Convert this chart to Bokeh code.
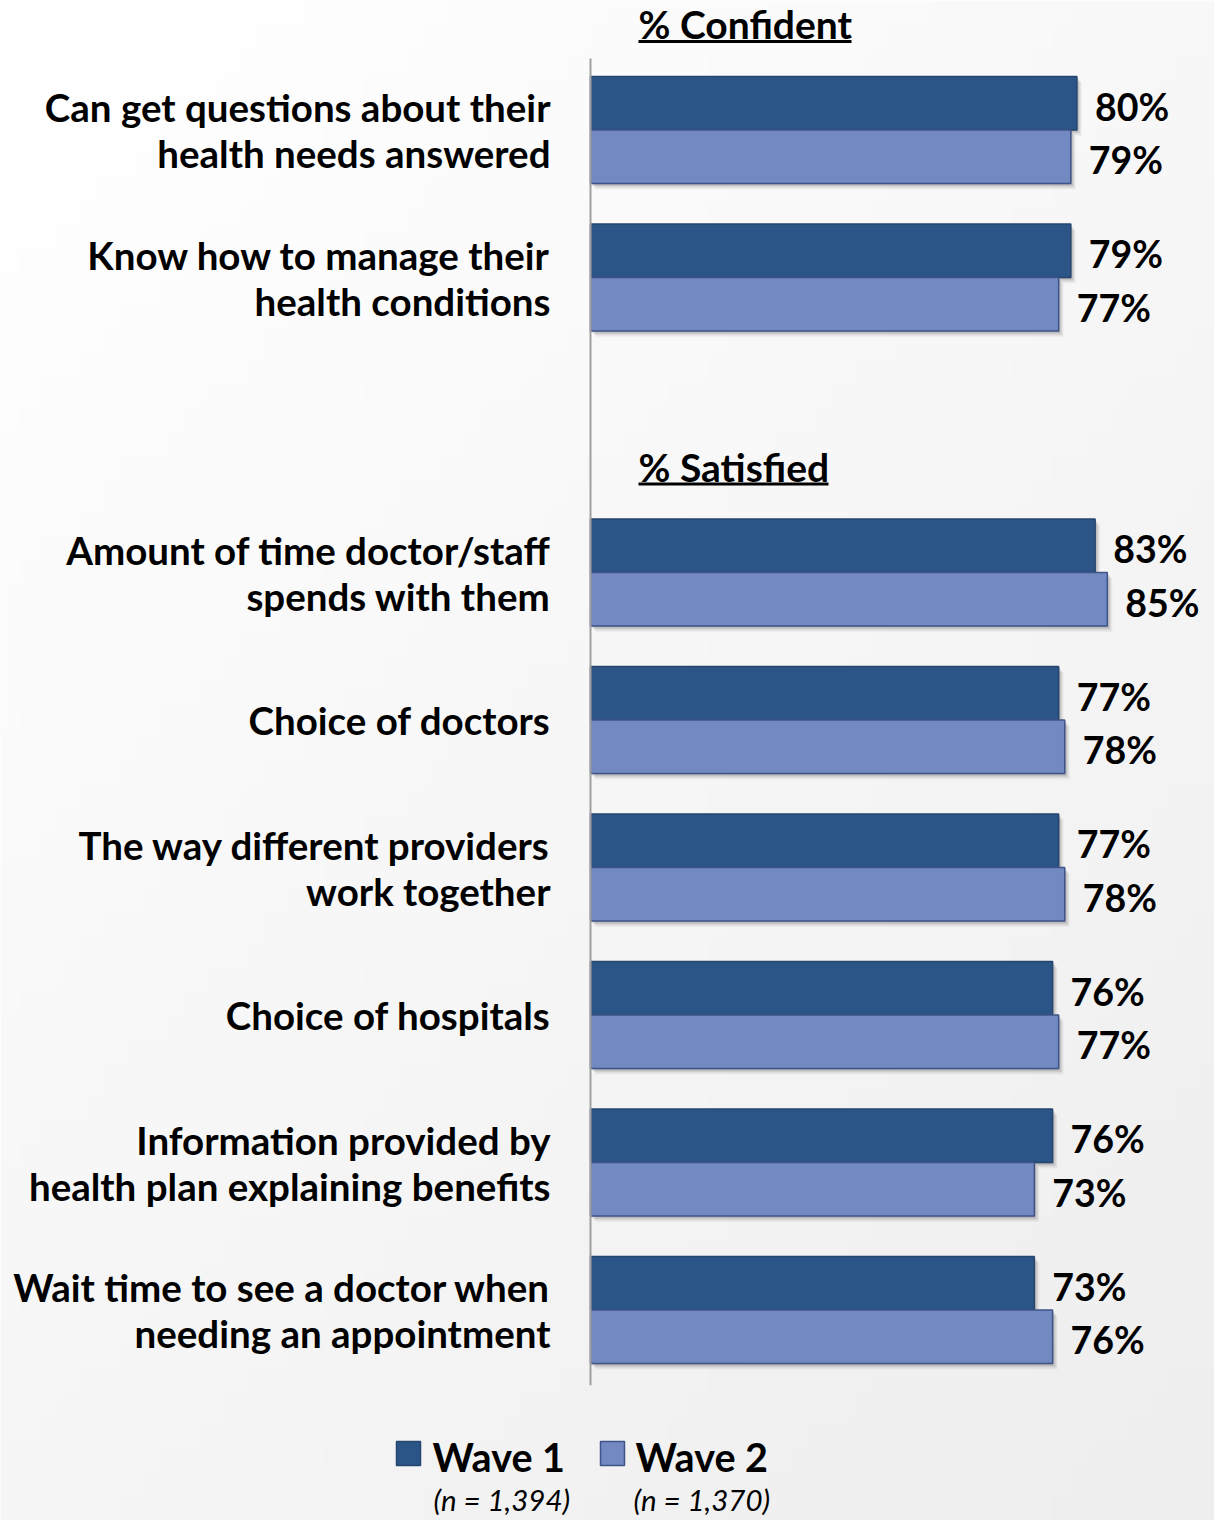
import numpy as np
from bokeh.plotting import figure
from bokeh.models import Range1d, ColumnDataSource
from bokeh.core.properties import value
from bokeh.embed import file_html
from bokeh.resources import INLINE

# ---------------- data ----------------
categories = [
    "Can get questions about their\nhealth needs answered",
    "Know how to manage their\nhealth conditions",
    "Amount of time doctor/staff\nspends with them",
    "Choice of doctors",
    "The way different providers\nwork together",
    "Choice of hospitals",
    "Information provided by\nhealth plan explaining benefits",
    "Wait time to see a doctor when\nneeding an appointment",
]
groups = ["% Confident", "% Confident",
          "% Satisfied", "% Satisfied", "% Satisfied", "% Satisfied", "% Satisfied", "% Satisfied"]
wave1 = [80, 79, 83, 77, 77, 76, 76, 73]
wave2 = [79, 77, 85, 78, 78, 77, 73, 76]
series_names = ["Wave 1", "Wave 2"]
series_n = ["(n = 1,394)", "(n = 1,370)"]

# ---------------- layout / style ----------------
W, H = 1214, 1520
OFF = 0                   # page offset of the figure
X0, XS = 590.0, 6.08      # page px of 0 %, px per %
Y0, YS = 129.5, 147.5     # page px of slot 0 centre, px per slot
BAR_H = 53.5 / YS
C1, C1L = "#2C5587", "#25466F"
C2, C2L = "#7389C2", "#3F5488"
FONT = value("Lato")

def dx(px):
    return (px - X0) / XS

def dy(py):
    return (py - Y0) / YS

# slots: leave one empty slot when the group changes
slots = []
s = 0
for i, g in enumerate(groups):
    if i > 0 and g != groups[i - 1]:
        s += 1
    slots.append(s)
    s += 1

p = figure(width=W, height=H, output_backend="svg", toolbar_location=None,
           x_range=Range1d(dx(OFF), dx(OFF + W)), y_range=Range1d(dy(OFF + H), dy(OFF)),
           min_border=0, x_axis_location=None, y_axis_location=None)
p.grid.visible = False
p.outline_line_color = None
p.background_fill_color = "white"
p.border_fill_color = "white"

# background gradient
ny, nx = 60, 60
yy, xx = np.mgrid[0:ny, 0:nx]
t = np.clip(0.6 * yy / (ny - 1) + 0.45 * xx / (nx - 1) - 0.05, 0, 1)
g = (255 - 17 * t).astype(np.uint32)
img = (255 << 24) | (g << 16) | (g << 8) | g
p.image_rgba(image=[img.astype(np.uint32)], x=dx(OFF), y=dy(OFF), dw=dx(OFF + W) - dx(OFF),
             dh=dy(OFF + H) - dy(OFF))

y1 = [sl - BAR_H / 2 for sl in slots]
y2 = [sl + BAR_H / 2 for sl in slots]
src = ColumnDataSource(dict(y1=y1, y2=y2, w1=wave1, w2=wave2,
                            l1=[f"{v}%" for v in wave1], l2=[f"{v}%" for v in wave2]))

# shadows
for k, a in [(1, 0.10), (2, 0.08), (3, 0.06), (4, 0.05), (5, 0.04)]:
    ox, oy = k * 1.0 / XS, k * 1.2 / YS
    for yc, wc in (("y1", "w1"), ("y2", "w2")):
        p.hbar(y=[v + oy for v in src.data[yc]], left=ox, right=[v + ox for v in src.data[wc]],
               height=BAR_H, fill_color="black", fill_alpha=a, line_color=None)

p.hbar(y="y1", left=0, right="w1", height=BAR_H, source=src,
       fill_color=C1, line_color=C1L, line_width=1.5)
p.hbar(y="y2", left=0, right="w2", height=BAR_H, source=src,
       fill_color=C2, line_color=C2L, line_width=1.5)

# axis line
p.segment(x0=[0], y0=[-0.485], x1=[0], y1=[max(slots) + 0.51], line_color="#A0A0A0", line_width=2)

# value labels
for yc, lc, wc in (("y1", "l1", "w1"), ("y2", "l2", "w2")):
    p.text(x=wc, y=yc, text=lc, source=src, x_offset=18, y_offset=3,
           text_font=FONT, text_font_style="bold", text_font_size="37.5px",
           text_color="black", text_align="left", text_baseline="middle")

# category labels
lx, ly, lt, lo = [], [], [], []
for sl, c in zip(slots, categories):
    lines = c.split("\n")
    n = len(lines)
    for j, ln in enumerate(lines):
        lx.append(0)
        ly.append(sl)
        lt.append(ln)
        lo.append(0 + (j - (n - 1) / 2) * 46)
p.text(x=lx, y=ly, text=lt, y_offset=lo, x_offset=-40,
       text_font=FONT, text_font_style="bold", text_font_size="38.5px",
       text_color="black", text_align="right", text_baseline="middle")

# group headers
hx, hy, ht = [], [], []
for i, g in enumerate(groups):
    if i == 0 or g != groups[i - 1]:
        hx.append(0); hy.append(slots[i]); ht.append(g)
p.text(x=hx, y=hy, text=ht, x_offset=48, y_offset=-106,
       text_font=FONT, text_font_style="bold", text_font_size="39px",
       text_color="black", text_align="left", text_baseline="middle")
ul_end = [dx(851), dx(828)]
for (yv, L) in zip(hy, ul_end):
    p.segment(x0=[dx(638)], y0=[yv + (41 - 129.5) / YS],
              x1=[L], y1=[yv + (41 - 129.5) / YS], line_color="black", line_width=3)

# legend
lg_x = [dx(408), dx(612)]
lg_y = dy(1453)
p.scatter(x=lg_x, y=[lg_y, lg_y], marker="square", size=24,
          fill_color=[C1, C2], line_color=[C1L, C2L], line_width=1.5)
p.text(x=[dx(432), dx(635)], y=[dy(1456)] * 2, text=series_names,
       text_font=FONT, text_font_style="bold", text_font_size="39.5px",
       text_color="black", text_align="left", text_baseline="middle")
p.text(x=[dx(433), dx(633)], y=[dy(1499)] * 2, text=series_n,
       text_font=FONT, text_font_style="italic", text_font_size="29.5px",
       text_color="black", text_align="left", text_baseline="middle")

open("out.html", "w").write(file_html(p, INLINE))
